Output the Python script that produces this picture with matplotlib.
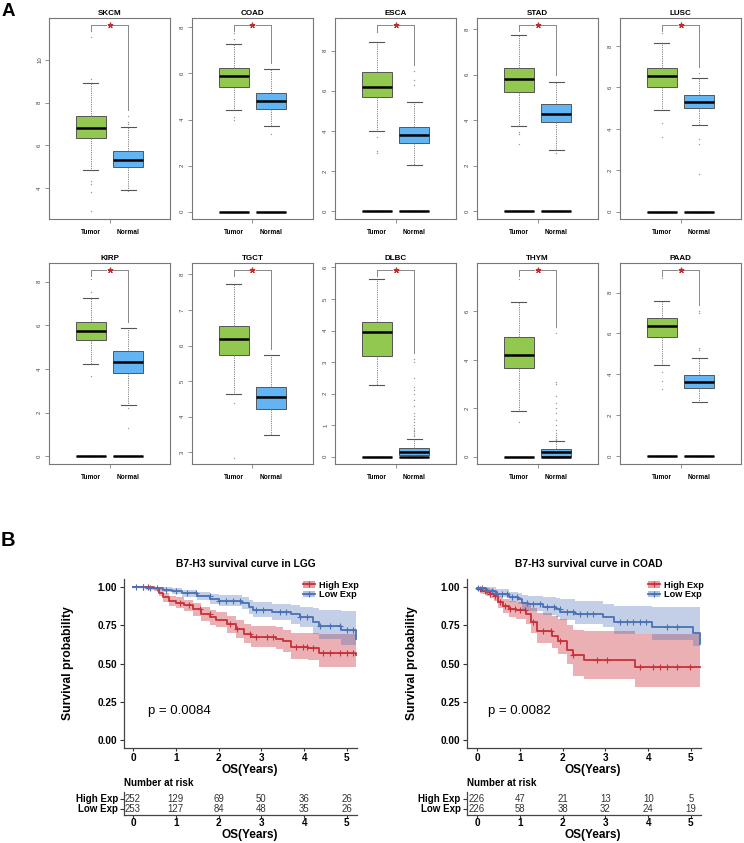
import numpy as np
import matplotlib
matplotlib.use('Agg')
import matplotlib.pyplot as plt
from matplotlib.lines import Line2D
from matplotlib.patches import Patch

plt.rcParams['font.family'] = ['Liberation Sans', 'DejaVu Sans']

# ---------------- DATA: panel A (box plots) ----------------
cancers = ['SKCM', 'COAD', 'ESCA', 'STAD', 'LUSC', 'KIRP', 'TGCT', 'DLBC', 'THYM', 'PAAD']
groups = ['Tumor', 'Normal']
# [whislo, q1, median, q3, whishi]
tumor_box = [
    [4.84, 6.33, 6.79, 7.35, 8.93],
    [4.40, 5.41, 5.87, 6.22, 7.29],
    [3.99, 5.67, 6.19, 6.91, 8.45],
    [3.74, 5.25, 5.81, 6.30, 7.76],
    [4.89, 6.04, 6.57, 6.94, 8.12],
    [4.22, 5.34, 5.72, 6.13, 7.26],
    [4.63, 5.72, 6.18, 6.54, 7.72],
    [2.26, 3.18, 3.94, 4.26, 5.62],
    [1.88, 3.65, 4.20, 4.93, 6.37],
    [4.47, 5.81, 6.36, 6.75, 7.60],
]
normal_box = [
    [3.90, 4.98, 5.30, 5.72, 6.84],
    [3.71, 4.45, 4.82, 5.17, 6.20],
    [2.31, 3.38, 3.78, 4.22, 5.43],
    [2.69, 3.90, 4.28, 4.72, 5.70],
    [4.19, 5.02, 5.28, 5.62, 6.46],
    [2.37, 3.80, 4.31, 4.81, 5.89],
    [3.49, 4.22, 4.54, 4.84, 5.74],
    [0.00, 0.05, 0.15, 0.29, 0.57],
    [0.00, 0.05, 0.19, 0.30, 0.64],
    [2.64, 3.32, 3.62, 3.95, 4.81],
]
tumor_fliers = [
    [11.07, 9.12, 4.34, 4.2, 3.83, 2.93],
    [7.76, 7.5, 4.1, 4.0],
    [8.9, 3.7, 3.0, 2.9],
    [3.5, 3.4, 2.97],
    [8.61, 4.3, 3.63],
    [8.11, 7.5, 3.7],
    [4.38, 2.85],
    [],
    [7.33, 1.43],
    [8.7, 4.1, 3.7, 3.3],
]
normal_fliers = [
    [7.35, 7.1, 7.0, 3.85],
    [3.39],
    [6.96, 6.55, 6.3],
    [2.55],
    [6.7, 3.5, 3.27, 1.82],
    [2.2, 1.29],
    [],
    [3.1, 3.0, 2.5, 2.2, 2.1, 2.0, 1.8, 1.6, 1.4, 1.3, 1.2, 1.1, 1.0, 0.9, 0.85, 0.8, 0.75, 0.7, 0.65],
    [5.1, 3.1, 3.0, 2.5, 2.2, 2.0, 1.8, 1.5, 1.3, 1.1, 1.0, 0.9, 0.8, 0.75, 0.7],
    [7.1, 7.0, 5.3, 5.2],
]
has_zero_group = [False, True, True, True, True, True, False, True, True, True]
y_limits = [(2.56, 11.95), (-0.32, 8.41), (-0.38, 9.62), (-0.34, 8.49), (-0.35, 9.35),
            (-0.35, 8.85), (2.67, 8.32), (-0.23, 6.14), (-0.30, 8.00), (-0.37, 9.44)]
y_ticks = [[4, 6, 8, 10], [0, 2, 4, 6, 8], [0, 2, 4, 6, 8], [0, 2, 4, 6, 8], [0, 2, 4, 6, 8],
           [0, 2, 4, 6, 8], [3, 4, 5, 6, 7, 8], [0, 1, 2, 3, 4, 5, 6], [0, 2, 4, 6], [0, 2, 4, 6, 8]]

# ---------------- DATA: panel B (survival) ----------------
lgg_high_t = [0, 0.5, 0.6, 0.7, 0.85, 1.0, 1.2, 1.4, 1.6, 1.8, 1.95, 2.2, 2.4, 2.6, 2.75, 3.35, 3.5, 3.7, 4.1, 4.35, 5.2]
lgg_high_s = [1.0, 0.99, 0.96, 0.93, 0.91, 0.895, 0.88, 0.855, 0.82, 0.80, 0.785, 0.755, 0.725, 0.695, 0.67, 0.66, 0.645, 0.605, 0.60, 0.57, 0.555]
lgg_high_lo = [1.0, 0.975, 0.94, 0.90, 0.875, 0.86, 0.84, 0.81, 0.775, 0.75, 0.735, 0.70, 0.665, 0.635, 0.605, 0.595, 0.575, 0.53, 0.52, 0.48, 0.46]
lgg_high_hi = [1.0, 1.0, 0.985, 0.96, 0.94, 0.93, 0.915, 0.895, 0.865, 0.85, 0.835, 0.81, 0.785, 0.76, 0.745, 0.735, 0.72, 0.70, 0.70, 0.69, 0.68]
lgg_high_cens = [0.24, 0.35, 1.09, 1.32, 1.56, 1.79, 2.26, 2.42, 2.73, 2.88, 3.12, 3.28, 3.82, 3.98, 4.06, 4.21, 4.45, 4.6, 4.84, 4.99, 5.15]

lgg_low_t = [0, 0.3, 0.7, 0.9, 1.15, 1.5, 1.8, 2.0, 2.55, 2.7, 2.8, 3.25, 3.7, 3.9, 4.2, 4.35, 4.85, 5.2]
lgg_low_s = [1.0, 0.99, 0.98, 0.972, 0.957, 0.94, 0.92, 0.91, 0.895, 0.87, 0.85, 0.835, 0.82, 0.80, 0.77, 0.745, 0.715, 0.66]
lgg_low_lo = [1.0, 0.98, 0.965, 0.955, 0.935, 0.915, 0.89, 0.875, 0.855, 0.825, 0.80, 0.78, 0.76, 0.735, 0.69, 0.66, 0.62, 0.55]
lgg_low_hi = [1.0, 1.0, 0.995, 0.99, 0.98, 0.965, 0.95, 0.945, 0.935, 0.915, 0.90, 0.89, 0.88, 0.87, 0.86, 0.85, 0.84, 0.80]
lgg_low_cens = [0.08, 0.24, 0.39, 0.55, 0.78, 1.01, 1.25, 1.48, 1.79, 2.02, 2.18, 2.34, 2.49, 2.88, 3.04, 3.43, 3.58, 3.9, 4.06, 4.37, 4.6, 4.84, 4.99, 5.15]

coad_high_t = [0, 0.1, 0.2, 0.3, 0.4, 0.5, 0.6, 0.75, 0.9, 1.15, 1.25, 1.4, 1.75, 1.9, 2.1, 2.25, 2.5, 3.7, 5.2]
coad_high_s = [0.985, 0.975, 0.965, 0.955, 0.94, 0.90, 0.875, 0.855, 0.845, 0.82, 0.77, 0.71, 0.68, 0.645, 0.59, 0.555, 0.52, 0.478, 0.478]
coad_high_lo = [0.97, 0.955, 0.94, 0.925, 0.905, 0.86, 0.83, 0.805, 0.79, 0.76, 0.70, 0.635, 0.60, 0.56, 0.50, 0.42, 0.40, 0.345, 0.345]
coad_high_hi = [1.0, 0.995, 0.99, 0.985, 0.975, 0.94, 0.92, 0.905, 0.90, 0.885, 0.86, 0.83, 0.81, 0.79, 0.75, 0.72, 0.71, 0.69, 0.69]
coad_high_cens = [0.07, 0.19, 0.3, 0.42, 0.54, 0.65, 0.77, 0.89, 1.0, 1.12, 1.32, 1.55, 1.74, 1.94, 2.25, 2.8, 3.03, 3.81, 4.12, 4.28, 4.43, 4.67, 4.98]

coad_low_t = [0, 0.2, 0.45, 0.75, 0.95, 1.05, 1.2, 1.55, 1.85, 1.95, 2.3, 2.95, 3.2, 4.1, 5.05, 5.2]
coad_low_s = [0.99, 0.975, 0.955, 0.93, 0.92, 0.895, 0.885, 0.865, 0.852, 0.838, 0.82, 0.80, 0.77, 0.735, 0.70, 0.63]
coad_low_lo = [0.98, 0.955, 0.93, 0.90, 0.885, 0.855, 0.84, 0.815, 0.80, 0.78, 0.755, 0.735, 0.695, 0.655, 0.615, 0.52]
coad_low_hi = [1.0, 0.995, 0.985, 0.965, 0.96, 0.945, 0.94, 0.93, 0.925, 0.92, 0.91, 0.89, 0.875, 0.87, 0.865, 0.78]
coad_low_cens = [0.03, 0.11, 0.23, 0.35, 0.46, 0.58, 0.7, 0.81, 0.93, 1.16, 1.32, 1.47, 1.63, 1.79, 1.94, 2.1, 2.25, 2.41, 2.56, 2.72, 3.34, 3.5, 3.65, 3.81, 3.96, 4.43, 4.67]

risk_times = [0, 1, 2, 3, 4, 5]
lgg_high_risk = [252, 129, 69, 50, 36, 26]
lgg_low_risk = [253, 127, 84, 48, 35, 26]
coad_high_risk = [226, 47, 21, 13, 10, 5]
coad_low_risk = [226, 58, 38, 32, 24, 19]
strata = ['High Exp', 'Low Exp']
p_values = ['p = 0.0084', 'p = 0.0082']
surv_titles = ['B7-H3 survival curve in LGG', 'B7-H3 survival curve in COAD']

# ---------------- FIGURE ----------------
W, H = 744, 843
fig = plt.figure(figsize=(W / 100, H / 100), dpi=100)


def ax_px(l, t, r, b):
    return fig.add_axes([l / W, 1 - b / H, (r - l) / W, (b - t) / H])


GREEN = '#92C84F'
BLUE_BOX = '#62B4F2'
STAR_RED = '#C42A2A'

lefts = [49, 192, 335, 477, 620]
rows = [(18, 219), (263, 464)]


def mkstats(v, fl):
    return dict(whislo=v[0], q1=v[1], med=v[2], q3=v[3], whishi=v[4], fliers=fl)


for i, name in enumerate(cancers):
    r, c = divmod(i, 5)
    t, b = rows[r]
    ax = ax_px(lefts[c], t, lefts[c] + 121, b)
    y0, y1 = y_limits[i]
    ax.set_ylim(y0, y1)
    ax.set_xlim(-0.11, 3.11)
    bx_kw = dict(positions=[1, 2], widths=0.8, patch_artist=True, capwidths=0.4,
                 boxprops=dict(edgecolor='#555555', linewidth=0.7),
                 medianprops=dict(color='black', linewidth=1.8),
                 whiskerprops=dict(color='#777777', linewidth=0.6, linestyle=(0, (1.5, 1.2))),
                 capprops=dict(color='#555555', linewidth=0.8),
                 flierprops=dict(marker='o', markersize=1.0, markerfacecolor='#999999',
                                 markeredgecolor='none'))
    if has_zero_group[i]:
        zs = [mkstats([0, 0, 0, 0, 0], []), mkstats([0, 0, 0, 0, 0], [])]
        ax.bxp(zs, **bx_kw)
    res = ax.bxp([mkstats(tumor_box[i], tumor_fliers[i]), mkstats(normal_box[i], normal_fliers[i])], **bx_kw)
    res['boxes'][0].set_facecolor(GREEN)
    res['boxes'][1].set_facecolor(BLUE_BOX)
    # significance bracket
    yr = y1 - y0
    by = y1 - 0.035 * yr
    ntop = max([normal_box[i][4]] + normal_fliers[i]) + 0.03 * yr
    ax.plot([2, 2], [ntop, by], color='#888888', lw=0.7)
    ax.plot([1, 1], [by - 0.03 * yr, by], color='#888888', lw=0.7)
    ax.plot([1, 1.4], [by, by], color='#888888', lw=0.7)
    ax.plot([1.6, 2], [by, by], color='#888888', lw=0.7)
    ax.plot([1.5], [by], marker=(5, 2, 0), markersize=4, color=STAR_RED, mew=0.9)
    ax.set_title(name, fontsize=5.8, fontweight='bold', pad=2.5)
    ax.set_yticks(y_ticks[i])
    ax.set_yticklabels([str(v) for v in y_ticks[i]], rotation=90, va='center',
                       fontsize=4.3, color='#444444')
    ax.tick_params(axis='y', length=3, width=0.5, color='#666666', pad=2)
    ax.set_xticks([1.5])
    ax.set_xticklabels([''])
    ax.set_xticks([1, 2], minor=True)
    ax.set_xticklabels(groups, minor=True, fontsize=4.7, fontweight='bold')
    ax.tick_params(axis='x', which='major', length=3, width=0.5, color='#666666')
    ax.tick_params(axis='x', which='minor', length=0, pad=7.5)
    for s in ax.spines.values():
        s.set_color('#777777')
        s.set_linewidth(0.8)

# ---------------- Panel B ----------------
RED = '#C8313A'
BLU = '#4A70B5'


def step_at(tt, ss, x):
    idx = np.searchsorted(tt, x, side='right') - 1
    return np.asarray(ss)[idx]


surv_sets = [
    dict(curves=[(lgg_high_t, lgg_high_s, lgg_high_lo, lgg_high_hi, lgg_high_cens),
                 (lgg_low_t, lgg_low_s, lgg_low_lo, lgg_low_hi, lgg_low_cens)],
         risk=[lgg_high_risk, lgg_low_risk], x0=124, x1=357, xz=133, ylab_x=68, leg_x=364),
    dict(curves=[(coad_high_t, coad_high_s, coad_high_lo, coad_high_hi, coad_high_cens),
                 (coad_low_t, coad_low_s, coad_low_lo, coad_low_hi, coad_low_cens)],
         risk=[coad_high_risk, coad_low_risk], x0=467, x1=701, xz=477, ylab_x=412, leg_x=709),
]
cols = [RED, BLU]
alphas = [0.38, 0.33]
PX_YR = 42.8

for k, S in enumerate(surv_sets):
    xl = ((S['x0'] - S['xz']) / PX_YR, (S['x1'] - S['xz']) / PX_YR)
    ax = ax_px(S['x0'], 579, S['x1'], 748)
    ax.set_xlim(*xl)
    ax.set_ylim(-0.05, 1.05)
    handles = []
    for j, (tt, ss, lo, hi, cens) in enumerate(S['curves']):
        ax.fill_between(tt, lo, hi, step='post', color=cols[j], alpha=alphas[j], lw=0)
    for j, (tt, ss, lo, hi, cens) in enumerate(S['curves']):
        ax.step(tt, ss, where='post', color=cols[j], lw=1.3)
        ax.plot(cens, step_at(tt, ss, cens), ls='none', marker='+', markersize=4,
                mew=0.8, color=cols[j])
        handles.append((Patch(facecolor=cols[j], alpha=alphas[j] + 0.1, lw=0),
                        Line2D([], [], color=cols[j], lw=1.3, marker='+', markersize=4, mew=0.8)))
    ax.set_xticks(risk_times)
    ax.set_xticklabels([str(v) for v in risk_times], fontsize=7.2, fontweight='bold')
    yt = [0, 0.25, 0.5, 0.75, 1.0]
    ax.set_yticks(yt)
    ax.set_yticklabels(['%.2f' % v for v in yt], fontsize=7.2, fontweight='bold')
    ax.tick_params(axis='y', length=3, width=0.8, color='#333333', pad=2)
    ax.tick_params(axis='x', length=2.5, width=0.8, color='#333333', pad=0.8)
    for sp in ['top', 'right']:
        ax.spines[sp].set_visible(False)
    for sp in ['left', 'bottom']:
        ax.spines[sp].set_color('#444444')
        ax.spines[sp].set_linewidth(0.9)
    ax.text(0.35 if k == 0 else 0.26, 0.19, p_values[k], fontsize=9.5, ha='left', va='center')
    ax.legend(handles, strata, loc='upper right',
              bbox_to_anchor=(S['leg_x'] / W, 1 - 575 / H), bbox_transform=fig.transFigure,
              frameon=False, handlelength=1.3, handletextpad=0.4, labelspacing=0.05,
              borderpad=0.1, prop=dict(weight='bold', size=6.6))
    cx = (S['x0'] + 10 + S['x1']) / 2
    fig.text(cx / W, 1 - 564 / H, surv_titles[k], ha='center', va='center',
             fontsize=7.4, fontweight='bold')
    fig.text(S['ylab_x'] / W, 1 - 663 / H, 'Survival probability', rotation=90,
             ha='center', va='center', fontsize=8.7, fontweight='bold')
    fig.text((cx + 4) / W, 1 - 770 / H, 'OS(Years)', ha='center', va='center',
             fontsize=8.5, fontweight='bold')

    # risk table
    rt = ax_px(S['x0'], 792, S['x1'], 815)
    rt.set_xlim(*xl)
    rt.set_ylim(0.35, 2.65)
    for j, vals in enumerate(S['risk']):
        yrow = 2 - j
        for tx, v in zip(risk_times, vals):
            rt.text(tx, yrow, str(v), ha='center', va='center', fontsize=6.9, color='#333333')
    rt.set_yticks([2, 1])
    rt.set_yticklabels(strata, fontsize=7.0, fontweight='bold')
    rt.set_xticks(risk_times)
    rt.set_xticklabels([str(v) for v in risk_times], fontsize=7.2, fontweight='bold')
    rt.tick_params(axis='y', length=3, width=0.8, color='#333333', pad=1.5)
    rt.tick_params(axis='x', length=2, width=0.8, color='#333333', pad=0.3)
    for sp in ['top', 'right']:
        rt.spines[sp].set_visible(False)
    for sp in ['left', 'bottom']:
        rt.spines[sp].set_color('#444444')
        rt.spines[sp].set_linewidth(0.9)
    fig.text(S['x0'] / W, 1 - 783 / H, 'Number at risk', ha='left', va='center',
             fontsize=7.1, fontweight='bold')
    fig.text((cx + 4) / W, 1 - 835 / H, 'OS(Years)', ha='center', va='center',
             fontsize=8.5, fontweight='bold')

fig.text(2 / W, 1 - 3 / H, 'A', ha='left', va='top', fontsize=13.5, fontweight='bold')
fig.text(1 / W, 1 - 531 / H, 'B', ha='left', va='top', fontsize=14.5, fontweight='bold')

fig.savefig('out.png', dpi=100)
